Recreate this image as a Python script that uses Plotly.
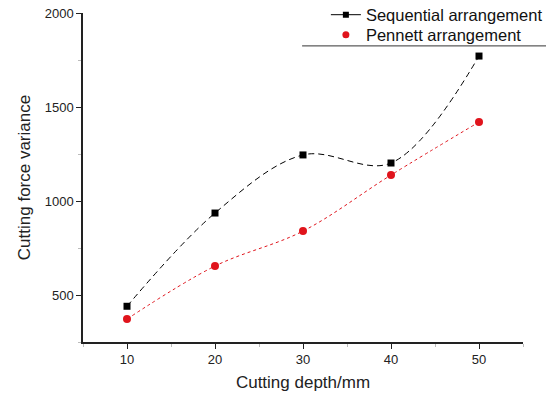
import plotly.graph_objects as go

depth = [10, 20, 30, 40, 50]
sequential = [440, 936, 1245, 1202, 1771]
pennett = [372, 654, 840, 1138, 1420]

seq_name = "Sequential arrangement"
pen_name = "Pennett arrangement"
x_title = "Cutting depth/mm"
y_title = "Cutting force variance"

fig = go.Figure()
fig.add_trace(go.Scatter(x=depth, y=sequential, mode="lines+markers", name=seq_name,
                         line=dict(color="black", width=1, dash="6px,4px", shape="spline", smoothing=1.0),
                         marker=dict(symbol="square", size=7, color="black"), showlegend=False))
fig.add_trace(go.Scatter(x=depth, y=pennett, mode="lines+markers", name=pen_name,
                         line=dict(color="#e0141c", width=1, dash="dot", shape="spline", smoothing=1.0),
                         marker=dict(symbol="circle", size=8, color="#e0141c"), showlegend=False))
# legend entries
fig.add_trace(go.Scatter(x=[None], y=[None], mode="lines+markers", name=seq_name, legend="legend",
                         line=dict(color="black", width=1),
                         marker=dict(symbol="square", size=6, color="black")))
fig.add_trace(go.Scatter(x=[None], y=[None], mode="markers", name=pen_name, legend="legend2",
                         marker=dict(symbol="circle", size=7, color="#e0141c")))

leg_common = dict(xanchor="left", yanchor="middle", bgcolor="rgba(0,0,0,0)",
                  font=dict(size=16.5, color="#111"), itemwidth=30)

fig.update_layout(
    width=546, height=395,
    margin=dict(l=83, r=23, t=13, b=53, autoexpand=False),
    paper_bgcolor="white", plot_bgcolor="white",
    font=dict(family="Liberation Sans, Arial, sans-serif", color="#222"),
    showlegend=True,
    legend=dict(x=0.552, y=0.994, **leg_common),
    legend2=dict(x=0.552, y=0.933, **leg_common),
    xaxis=dict(range=[5, 55], tickvals=[10, 20, 30, 40, 50], showgrid=False, zeroline=False,
               showline=True, linecolor="#222", linewidth=1.5, ticks="outside", ticklen=5,
               tickcolor="#222", tickfont=dict(size=13), automargin=False,
               minor=dict(tickvals=[5, 15, 25, 35, 45, 55], ticks="outside", ticklen=3, tickcolor="#bbb"),
               title=dict(text=x_title, font=dict(size=17), standoff=10)),
    yaxis=dict(range=[250, 2000], tickvals=[500, 1000, 1500, 2000], showgrid=False, zeroline=False,
               showline=True, linecolor="#222", linewidth=1.5, ticks="outside", ticklen=5,
               tickcolor="#222", tickfont=dict(size=13), automargin=False,
               minor=dict(tickvals=[250, 750, 1250, 1750], ticks="outside", ticklen=3, tickcolor="#bbb"),
               title=dict(text=y_title, font=dict(size=17), standoff=10)),
    shapes=[dict(type="line", xref="paper", yref="paper", x0=0.498, x1=1.06, y0=0.9, y1=0.9,
                 line=dict(color="#333", width=1))],
)

fig.write_html("out.html")
